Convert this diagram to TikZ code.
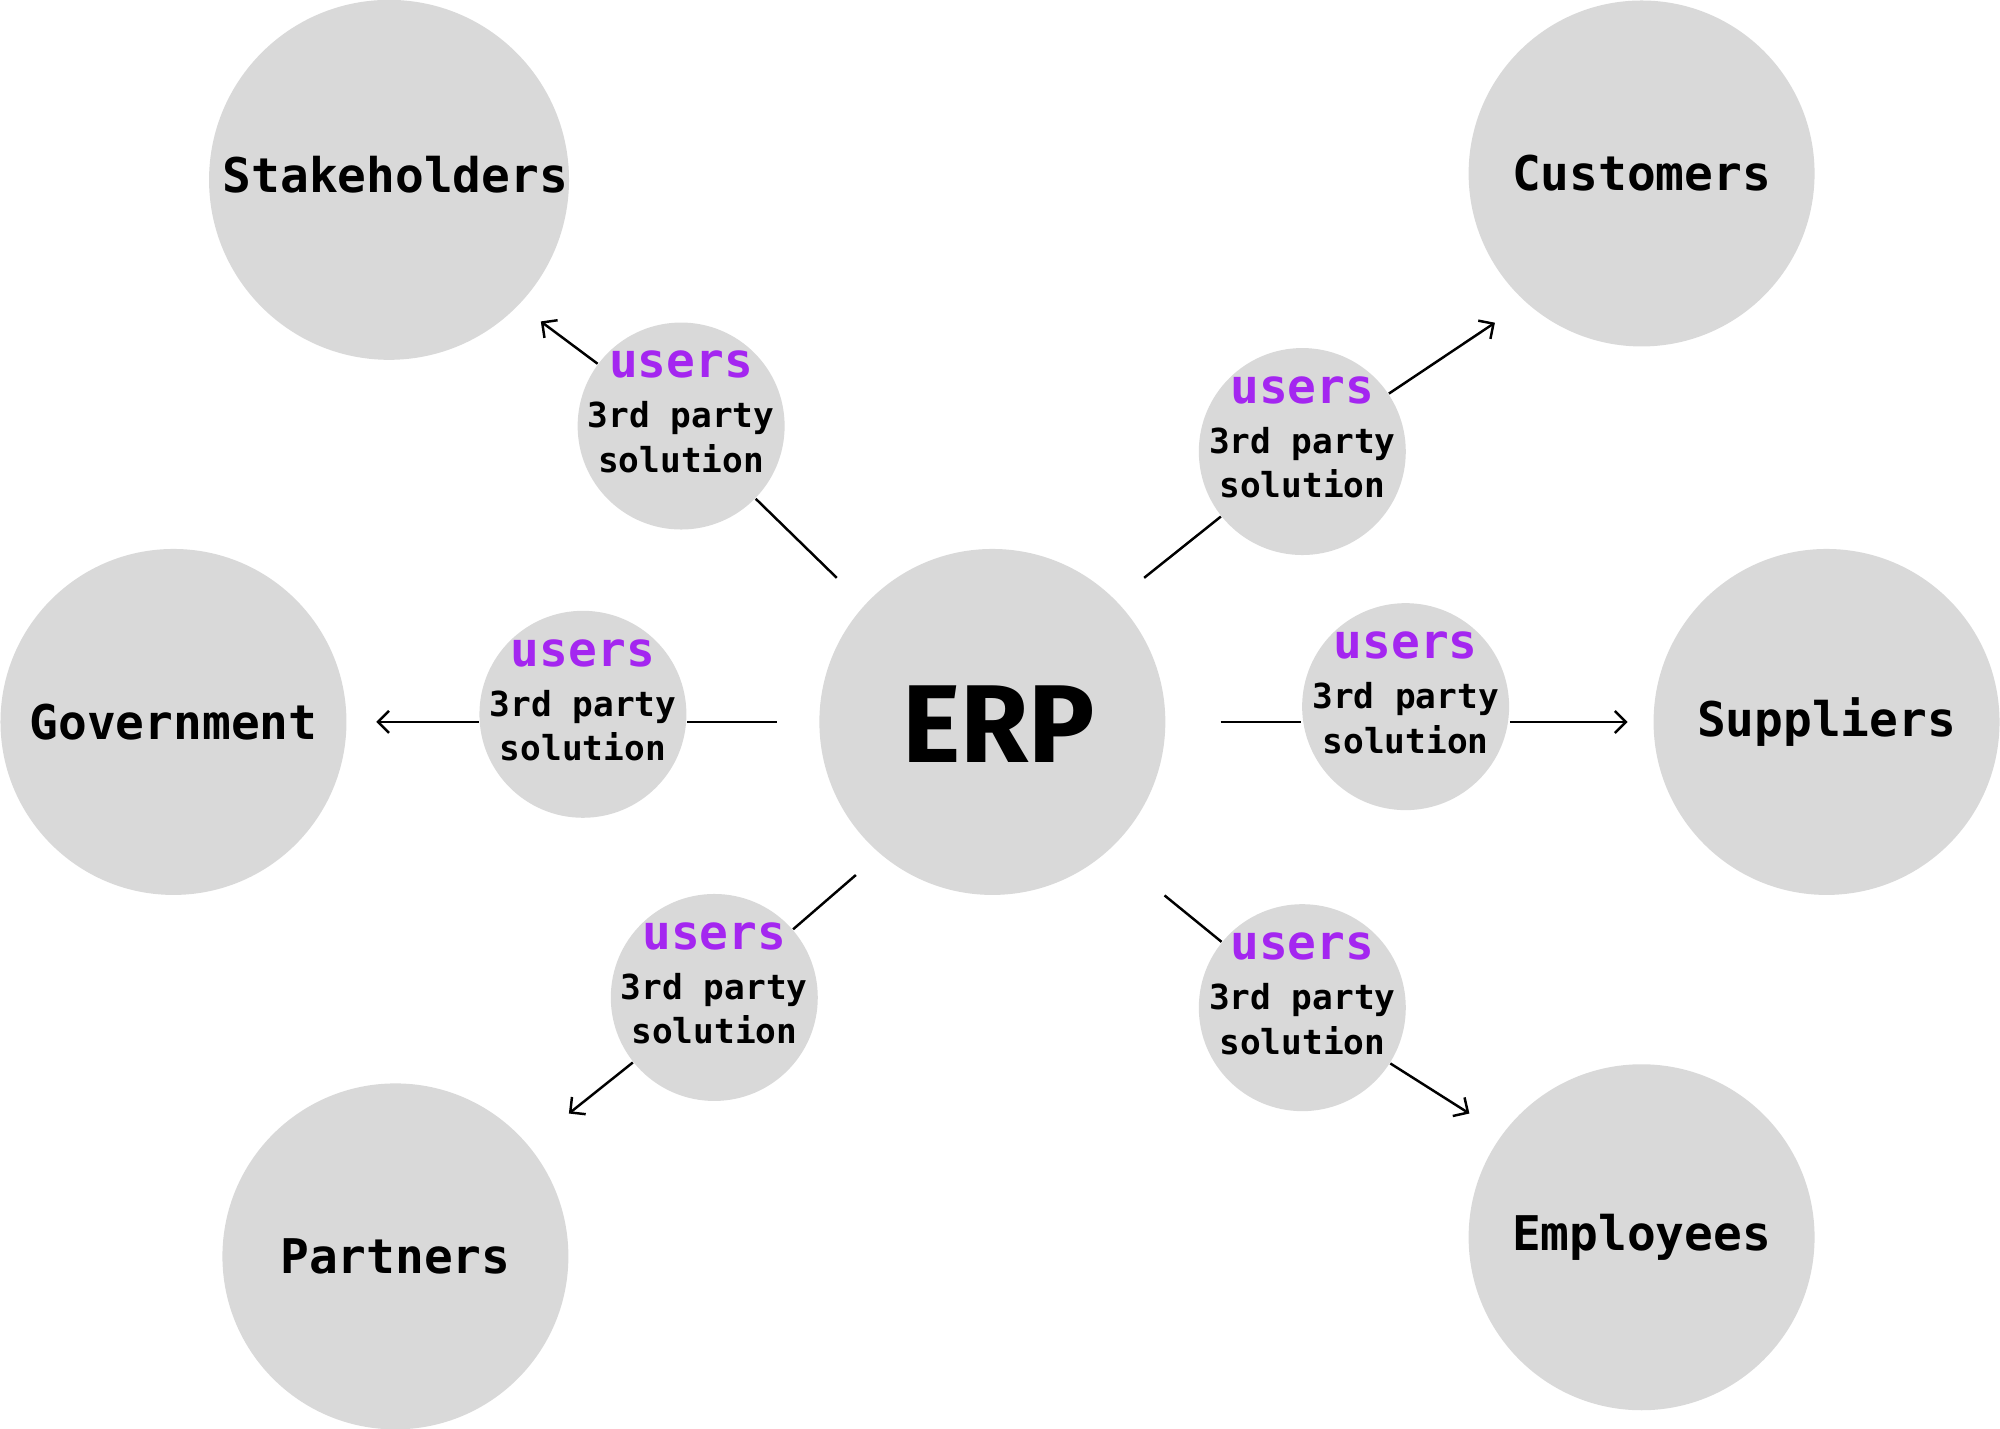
\documentclass[tikz,border=0pt]{standalone}
\usepackage{fontspec}
\setmainfont{DejaVu Sans Mono}
\newfontfamily\hubfont{Fira Sans}
\usetikzlibrary{arrows.meta}
\definecolor{userpurple}{RGB}{164,38,240}
\definecolor{bubblegray}{RGB}{217,217,217}
\newcommand{\viatext}{\textcolor{userpurple}{\fontsize{13.6}{14}\selectfont users}\\[1.5pt]3rd party\\solution}

\begin{document}
\begin{tikzpicture}[
    x=0.012755cm, y=-0.012755cm,
    group/.style={circle, fill=bubblegray, minimum size=3.46cm, inner sep=0pt, font=\fontsize{13.6}{16}\selectfont\bfseries},
    hub/.style={circle, fill=bubblegray, minimum size=3.46cm, inner sep=0pt},
    via/.style={circle, fill=bubblegray, minimum size=2.07cm, inner sep=0pt},
    vialabel/.style={align=center, inner sep=0pt, yshift=0.14cm, font=\fontsize{9.8}{12.7}\selectfont\bfseries},
    link/.style={line width=0.7pt},
    arrow/.style={line width=0.7pt, -{Straight Barb[length=1.1mm, width=2.2mm]}}
]
\useasboundingbox (0,0) rectangle (1568,1120);

% Nodes
\node[hub] (erp) at (778,566) {};
\node[font=\hubfont\fontsize{31.5}{34}\selectfont\bfseries] (erplabel) at (783,568) {ERP};
\node[group, minimum size=3.6cm] (stake) at (305,141) {};
\node[font=\fontsize{13.6}{16}\selectfont\bfseries] (stakelabel) at (310,137) {Stakeholders};
\node[group] (cust) at (1287,136) {Customers};
\node[group] (gov) at (136,566) {Government};
\node[group] (supp) at (1432,566) {Suppliers};
\node[group] (part) at (310,985) {Partners};
\node[group] (empl) at (1287,970) {Employees};

\node[via] (u1) at (534,334) {};
\node[via] (u2) at (1021,354) {};
\node[via] (u3) at (457,560) {};
\node[via] (u4) at (1102,554) {};
\node[via] (u5) at (560,782) {};
\node[via] (u6) at (1021,790) {};
\node[vialabel] (l1) at (u1) {\viatext};
\node[vialabel] (l2) at (u2) {\viatext};
\node[vialabel] (l3) at (u3) {\viatext};
\node[vialabel] (l4) at (u4) {\viatext};
\node[vialabel] (l5) at (u5) {\viatext};
\node[vialabel] (l6) at (u6) {\viatext};

% Free ends
\coordinate (e1) at (656,453);
\coordinate (e2) at (897,453);
\coordinate (e3) at (609,566);
\coordinate (e4) at (957,566);
\coordinate (e5) at (671,686);
\coordinate (e6) at (913,702);
\coordinate (t1) at (424,252);
\coordinate (t2) at (1172,253);
\coordinate (t3) at (295,566);
\coordinate (t4) at (1276,566);
\coordinate (t5) at (446,873);
\coordinate (t6) at (1152,873);

% Edges
\draw[link] (e1) -- (u1);
\draw[arrow] (u1) -- (t1);
\draw[link] (e2) -- (u2);
\draw[arrow] (u2) -- (t2);
\draw[link] (e3) -- (e3 -| u3.east);
\draw[arrow] (t3 -| u3.west) -- (t3);
\draw[link] (e4) -- (e4 -| u4.west);
\draw[arrow] (t4 -| u4.east) -- (t4);
\draw[link] (e5) -- (u5);
\draw[arrow] (u5) -- (t5);
\draw[link] (e6) -- (u6);
\draw[arrow] (u6) -- (t6);

\end{tikzpicture}
\end{document}
